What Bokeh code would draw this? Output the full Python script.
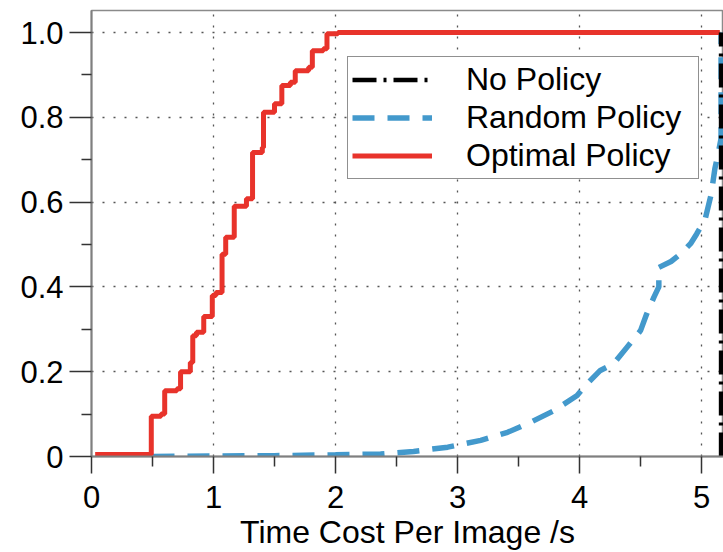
from bokeh.plotting import figure
from bokeh.models import FixedTicker, Range1d, Legend, LegendItem
from bokeh.embed import file_html
from bokeh.resources import INLINE

# ---- data ----
opt_x = [0.03, 0.49, 0.57, 0.60, 0.70, 0.73, 0.81, 0.83, 0.86, 0.92, 0.99, 1.02,
         1.07, 1.10, 1.17, 1.27, 1.32, 1.40, 1.41, 1.50, 1.56, 1.63, 1.67, 1.78,
         1.81, 1.90, 1.93, 2.02, 5.15]
opt_y = [0.005, 0.095, 0.10, 0.155, 0.16, 0.20, 0.222, 0.285, 0.293, 0.33, 0.38, 0.387,
         0.477, 0.517, 0.59, 0.608, 0.717, 0.729, 0.812, 0.832, 0.875, 0.883, 0.91, 0.918,
         0.957, 0.962, 0.997, 1.0, 1.0]

rand_x = [0.50, 1.0, 1.5, 2.0, 2.37, 2.64, 2.92, 3.19, 3.41, 3.60, 3.79, 3.98, 4.06,
          4.17, 4.28, 4.39, 4.50, 4.55, 4.61, 4.65, 4.65, 4.75, 4.83, 4.91, 4.96,
          5.03, 5.08, 5.11, 5.14, 5.16, 5.16]
rand_y = [0.0, 0.001, 0.002, 0.004, 0.006, 0.012, 0.022, 0.038, 0.057, 0.081, 0.108,
          0.144, 0.171, 0.203, 0.219, 0.258, 0.297, 0.336, 0.376, 0.40, 0.446, 0.46,
          0.478, 0.502, 0.525, 0.56, 0.62, 0.68, 0.72, 0.75, 1.0]

nopol_x = [5.16, 5.16]
nopol_y = [0.0, 1.0]

x_ticks = [0, 1, 2, 3, 4, 5]
x_minor = [0.5, 1.5, 2.5, 3.5, 4.5]
y_ticks = [0, 0.2, 0.4, 0.6, 0.8, 1.0]
y_tick_labels = ["0", "0.2", "0.4", "0.6", "0.8", "1.0"]
y_minor = [0.1, 0.3, 0.5, 0.7, 0.9]
x_label = "Time Cost Per Image /s"
series_names = ["No Policy", "Random Policy", "Optimal Policy"]

FONT = "Liberation Sans"

p = figure(width=723, height=552, output_backend="svg", toolbar_location=None,
           x_range=Range1d(0, 5.18), y_range=Range1d(0, 1.052),
           min_border_left=91, min_border_right=0, min_border_top=10,
           min_border_bottom=96)
p.background_fill_color = "white"
p.border_fill_color = "white"
p.outline_line_color = "#8a8a8a"
p.outline_line_width = 1.5

# grid
for g in (p.xgrid, p.ygrid):
    g.grid_line_color = "#555555"
    g.grid_line_width = 1.3
    g.grid_line_dash = "2 9"

# axes
p.xaxis.ticker = FixedTicker(ticks=x_ticks, minor_ticks=x_minor)
p.yaxis.ticker = FixedTicker(ticks=y_ticks, minor_ticks=y_minor)
p.yaxis.major_label_overrides = {t: l for t, l in zip(y_ticks, y_tick_labels)}
for ax in (p.xaxis, p.yaxis):
    ax.axis_line_color = "#7f7f7f"
    ax.axis_line_width = 2
    ax.major_tick_line_color = "#333333"
    ax.minor_tick_line_color = "#333333"
    ax.major_tick_line_width = 1.5
    ax.minor_tick_line_width = 1.5
    ax.major_tick_in = 0
    ax.minor_tick_in = 0
    ax.minor_tick_out = 10
    ax.major_label_text_font = FONT
    ax.major_label_text_font_size = "31px"
    ax.major_label_text_color = "black"
p.xaxis.major_tick_out = 17
p.yaxis.major_tick_out = 22
p.xaxis.major_label_standoff = 12
p.yaxis.major_label_standoff = 6
p.xaxis.axis_label = x_label
p.xaxis.axis_label_text_font = FONT
p.xaxis.axis_label_text_font_size = "32px"
p.xaxis.axis_label_text_font_style = "normal"
p.xaxis.axis_label_text_color = "black"
p.xaxis.axis_label_standoff = 3

# lines
r_rand = p.line(rand_x, rand_y, line_color="#4399cc", line_width=5.5,
                line_dash="22 13")
r_opt = p.step(opt_x, opt_y, mode="after", line_color="#e8332b", line_width=5)
r_none = p.line(nopol_x, nopol_y, line_color="black", line_width=4.5,
                line_dash="24 7 3 7")

legend = Legend(items=[LegendItem(label=series_names[0], renderers=[r_none]),
                       LegendItem(label=series_names[1], renderers=[r_rand]),
                       LegendItem(label=series_names[2], renderers=[r_opt])],
                location=(256, 277))
legend.label_text_font = FONT
legend.label_text_font_size = "32px"
legend.label_text_color = "black"
legend.glyph_width = 80
legend.glyph_height = 37
legend.label_height = 37
legend.label_width = 228
legend.label_standoff = 34
legend.spacing = 1
legend.padding = 4
legend.margin = 0
legend.border_line_color = "#222222"
legend.border_line_width = 1.2
legend.background_fill_color = "white"
legend.background_fill_alpha = 1.0
p.add_layout(legend)

open("out.html", "w").write(file_html(p, INLINE))
